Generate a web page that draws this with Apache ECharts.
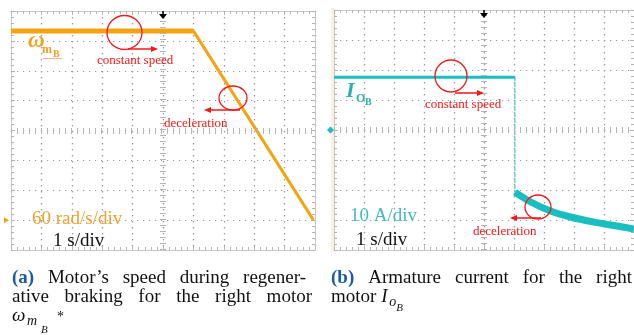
<!DOCTYPE html>
<html><head><meta charset="utf-8">
<script src="https://cdn.jsdelivr.net/npm/echarts@6/dist/echarts.min.js"></script>
<style>html,body{margin:0;padding:0;background:#fff}#c{width:634px;height:335px}</style>
</head><body><div id="c"></div>
<script>
// ---- data ----
const speedTime = [0, 6.0, 9.95];          // s
const speedValue = [380, 380, 0];          // rad/s
const currentTime = [0, 6.03, 6.03, 6.56, 7.22, 7.88, 8.67, 9.43, 10]; // s
const currentValue = [17.6, 17.6, -20.7, -24, -27, -29, -30.7, -32, -33]; // A
const timeTicks = {min: 0, max: 10, interval: 1};
const speedTicks = {min: -60, max: 420, interval: 60};
const currentTicks = {min: -40, max: 40, interval: 10};

const ORANGE = '#f6a312', CYAN = '#19bfc0', RED = '#f01818', GRID = '#b4b4b4';
const SERIF = '"Liberation Serif", "DejaVu Serif", serif';

function pairs(t, v, a, b) { const out = []; for (let i = a; i <= b; i++) out.push([t[i], v[i]]); return out; }

function axis(gridIndex, ticks, position, split) {
  return {
    type: 'value', gridIndex, position, min: ticks.min, max: ticks.max, interval: ticks.interval,
    axisLine: {show: true, onZero: false, lineStyle: {color: '#c8c8c8', width: 1}},
    axisTick: {show: true, inside: true, length: 4, lineStyle: {color: GRID}},
    minorTick: {show: true, splitNumber: 5, length: 3, lineStyle: {color: GRID}},
    axisLabel: {show: false},
    splitLine: {show: split, lineStyle: {color: '#9a9a9a', type: [1.2, 4.8], width: 1.2}},
    minorSplitLine: {show: false}
  };
}

const centerLine = (yVal) => ({
  silent: true, symbol: 'none', label: {show: false},
  lineStyle: {color: GRID, type: [1, 5], width: 6, opacity: 1},
  data: [{yAxis: yVal}, {xAxis: 5}], animation: false
});

const chart = echarts.init(document.getElementById('c'), null, {renderer: 'canvas'});

chart.setOption({
  animation: false,
  backgroundColor: '#fff',
  grid: [
    {left: 11, top: 11, width: 304, height: 239},
    {left: 334, top: 10, width: 303, height: 240}
  ],
  xAxis: [
    axis(0, timeTicks, 'bottom', true), axis(0, timeTicks, 'top', true),
    axis(1, timeTicks, 'bottom', true), axis(1, timeTicks, 'top', true)
  ],
  yAxis: [
    axis(0, speedTicks, 'left', true), axis(0, speedTicks, 'right', false),
    axis(1, currentTicks, 'left', true), axis(1, currentTicks, 'right', false)
  ],
  series: [
    {type: 'line', xAxisIndex: 0, yAxisIndex: 0, data: pairs(speedTime, speedValue, 0, 1), showSymbol: false,
     lineStyle: {color: ORANGE, width: 5}, markLine: centerLine(180), z: 3},
    {type: 'line', xAxisIndex: 0, yAxisIndex: 0, data: pairs(speedTime, speedValue, 1, 2), showSymbol: false,
     lineStyle: {color: ORANGE, width: 3}, z: 3},
    {type: 'line', xAxisIndex: 2, yAxisIndex: 2, data: pairs(currentTime, currentValue, 0, 1), showSymbol: false,
     lineStyle: {color: CYAN, width: 3}, markLine: centerLine(0), z: 3},
    {type: 'line', xAxisIndex: 2, yAxisIndex: 2, data: pairs(currentTime, currentValue, 1, 2), showSymbol: false,
     lineStyle: {color: CYAN, width: 1, type: [4, 2]}, z: 3},
    {type: 'line', xAxisIndex: 2, yAxisIndex: 2, data: pairs(currentTime, currentValue, 2, currentTime.length - 1), showSymbol: false,
     smooth: 0.3, lineStyle: {color: CYAN, width: 7}, z: 3}
  ]
});

// ---------- text, annotations and scope markers ----------
const ctx = document.createElement('canvas').getContext('2d');
function fontOf(size, extra) { extra = extra || {}; return (extra.style || 'normal') + ' ' + (extra.weight || 'normal') + ' ' + size + 'px ' + SERIF; }
function tw(text, font) { ctx.font = font; return ctx.measureText(text).width; }
function txt(text, x, yBase, size, fill, extra) {
  extra = extra || {};
  return {type: 'text', z: 100, silent: true, x: x, y: yBase - 0.3 * size,
          style: {text: text, font: fontOf(size, extra), fill: fill, align: extra.align || 'left', verticalAlign: 'middle'}};
}
function justify(items, x0, x1, yBase, size) {
  const widths = items.map(it => tw(it.t, fontOf(size, it)));
  const total = widths.reduce((a, b) => a + b, 0);
  const gap = (x1 - x0 - total) / (items.length - 1);
  const out = []; let x = x0;
  items.forEach((it, i) => { out.push(txt(it.t, x, yBase, size, it.fill || '#111', it)); x += widths[i] + gap; });
  return out;
}
function ellipse(cx, cy, rx, ry) {
  return {type: 'ellipse', z: 100, silent: true, shape: {cx, cy, rx, ry}, style: {fill: 'none', stroke: RED, lineWidth: 1.3}};
}
function arrow(x1, x2, y) {
  const dir = x2 > x1 ? 1 : -1;
  return [
    {type: 'line', z: 100, silent: true, shape: {x1, y1: y, x2: x2 - dir * 5, y2: y}, style: {stroke: RED, lineWidth: 1.5}},
    {type: 'polygon', z: 100, silent: true, shape: {points: [[x2, y], [x2 - dir * 7, y - 3], [x2 - dir * 7, y + 3]]}, style: {fill: RED}}
  ];
}
function trigger(x, yTop) {
  return [
    {type: 'line', z: 100, silent: true, shape: {x1: x, y1: yTop, x2: x, y2: yTop + 6}, style: {stroke: '#000', lineWidth: 1.5}},
    {type: 'polygon', z: 100, silent: true, shape: {points: [[x - 4, yTop + 3], [x + 4, yTop + 3], [x, yTop + 8]]}, style: {fill: '#000'}}
  ];
}

const g0 = chart.convertToPixel({gridIndex: 0}, [5, 0]);
const g1 = chart.convertToPixel({gridIndex: 1}, [5, 0]);

const BLUE = '#1d5c9c';
let els = [];
els.push({type: 'rect', z: 1, silent: true, shape: {x: 331, y: 8, width: 3, height: 244}, style: {fill: '#fbf1df'}});
els.push({type: 'polygon', z: 100, silent: true, shape: {points: [[4, g0[1] - 3], [9, g0[1]], [4, g0[1] + 3]]}, style: {fill: ORANGE}});
els.push({type: 'polygon', z: 100, silent: true, shape: {points: [[327, g1[1]], [330.5, g1[1] - 3.5], [334, g1[1]], [330.5, g1[1] + 3.5]]}, style: {fill: CYAN}});
els = els.concat(trigger(g0[0], 11), trigger(g1[0], 10));

// left panel labels
els.push(txt('ω', 28, 48, 23, '#f0a020', {style: 'italic', weight: 'bold'}));
els.push(txt('m', 42, 54, 12, '#f0a020', {weight: 'bold'}));
els.push(txt('B', 53, 57, 10, '#f0a020', {weight: 'bold'}));
els.push({type: 'line', z: 100, silent: true, shape: {x1: 43, y1: 58.5, x2: 62, y2: 58.5}, style: {stroke: '#f7b0a0', lineWidth: 1}});
els.push(txt('constant speed', 97, 64, 13, RED));
els.push(ellipse(124.5, 32.5, 17.5, 17));
els = els.concat(arrow(128, 158, 49));
els.push(txt('deceleration', 164, 127, 13, RED));
els.push(ellipse(233, 98, 14, 12));
els = els.concat(arrow(240, 204, 110));
els.push(txt('60 rad/s/div', 32, 225, 19, '#f0a030'));
els.push(txt('1 s/div', 53, 247, 19, '#111'));

// right panel labels
els.push(txt('I', 346, 98, 22, '#2fb0b0', {style: 'italic', weight: 'bold'}));
els.push(txt('O', 356, 103, 12, '#2fb0b0', {weight: 'bold'}));
els.push(txt('B', 365, 105, 10, '#2fb0b0', {weight: 'bold'}));
els.push(txt('constant speed', 425, 108, 13, RED));
els.push(ellipse(451, 76, 16, 16));
els = els.concat(arrow(455, 484, 93));
els.push(txt('deceleration', 473, 235, 13, RED));
els.push(ellipse(538, 207, 13, 12));
els = els.concat(arrow(541, 510, 218));
els.push(txt('10 A/div', 350, 222, 19, '#45b9c0'));
els.push(txt('1 s/div', 356, 246, 19, '#111'));

// captions
els = els.concat(justify([{t: '(a)', weight: 'bold', fill: BLUE}, {t: 'Motor’s'}, {t: 'speed'}, {t: 'during'}, {t: 'regener-'}], 12, 306, 284, 19));
els = els.concat(justify([{t: 'ative'}, {t: 'braking'}, {t: 'for'}, {t: 'the'}, {t: 'right'}, {t: 'motor'}], 12, 312, 303, 19));
els.push(txt('ω', 12, 322, 19, '#111', {style: 'italic'}));
els.push(txt('m', 27, 326, 14, '#111', {style: 'italic'}));
els.push(txt('B', 41, 333, 11, '#111', {style: 'italic'}));
els.push(txt('*', 57, 322, 14, '#111'));
els = els.concat(justify([{t: '(b)', weight: 'bold', fill: BLUE}, {t: 'Armature'}, {t: 'current'}, {t: 'for'}, {t: 'the'}, {t: 'right'}], 331, 632, 284, 19));
const motorW = tw('motor ', fontOf(19));
els.push(txt('motor', 331, 303, 19, '#111'));
els.push(txt('I', 331 + motorW, 303, 19, '#111', {style: 'italic'}));
els.push(txt('o', 331 + motorW + 8, 307, 14, '#111', {style: 'italic'}));
els.push(txt('B', 331 + motorW + 15, 311, 11, '#111', {style: 'italic'}));

chart.setOption({graphic: {elements: els}});
</script></body></html>
